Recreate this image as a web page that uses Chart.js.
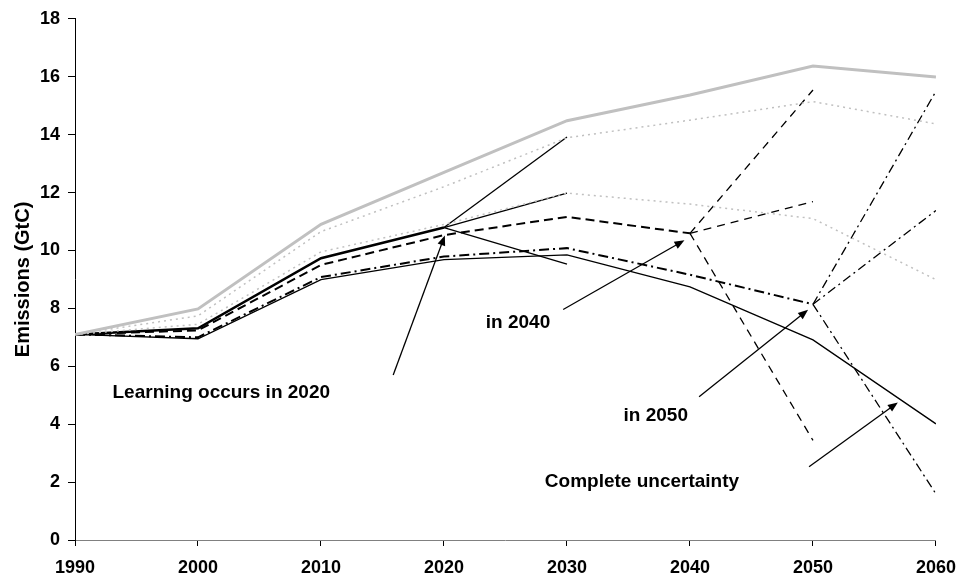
<!DOCTYPE html>
<html>
<head>
<meta charset="utf-8">
<script src="https://cdn.jsdelivr.net/npm/chart.js@4/dist/chart.umd.min.js"></script>
<style>
  html, body { margin: 0; padding: 0; background: #ffffff; }
</style>
</head>
<body>
<canvas id="myPlot1" width="967" height="585"></canvas>
<script>
// values
const years = [1990, 2000, 2010, 2020, 2030, 2040, 2050, 2060]
const refHigh = [7.1, 7.98, 10.9, 12.7, 14.48, 15.37, 16.37, 15.99]
const dotHigh = [7.1, 7.74, 10.65, 12.2, 13.89, 14.5, 15.14, 14.37]
const dotMid = [7.1, 7.45, 9.95, 10.9, 11.98, 11.6, 11.1, 8.99]
const learn2020 = [7.1, 7.31, 9.73, 10.79]
const branch2020 = [13.92, 11.98, 9.53]
const learn2040 = [7.1, 7.24, 9.5, 10.53, 11.16, 10.59]
const branch2040 = [15.54, 11.69, 3.44]
const learn2050 = [7.1, 7.0, 9.08, 9.79, 10.08, 9.16, 8.14]
const branch2050 = [15.5, 11.38, 1.59]
const noLearning = [7.1, 6.95, 8.99, 9.68, 9.85, 8.74, 6.91, 4.01]

// annotations in data units: [x0, y0, x1, y1]
const arrows = [
  [2015.87, 5.70, 2020.07, 10.52],
  [2029.69, 7.96, 2039.55, 10.35],
  [2040.74, 4.95, 2049.6, 7.95],
  [2049.68, 2.53, 2056.9, 4.75]
]
const notes = [
  {text: 'Learning occurs in 2020', x: 1993.05, y: 5.09},
  {text: 'in 2040', x: 2023.4, y: 7.5},
  {text: 'in 2050', x: 2034.6, y: 4.3},
  {text: 'Complete uncertainty', x: 2028.2, y: 2.0}
]

const pts = (xs, ys) => ys.map((v, i) => ({x: xs[i], y: v}))
const fan = (x0, y0, x1, ends) => ends.map(v => [{x: x0, y: y0}, {x: x1, y: v}])

const FONT = '"Liberation Sans", Arial, sans-serif'
const GREY = '#c0c0c0'

const datasets = []
datasets.push({data: pts(years, refHigh), borderColor: GREY, borderWidth: 3})
datasets.push({data: pts(years, dotHigh), borderColor: GREY, borderWidth: 1.5, borderDash: [2, 4]})
datasets.push({data: pts(years, dotMid), borderColor: GREY, borderWidth: 1.5, borderDash: [2, 4]})
datasets.push({data: pts(years, noLearning), borderColor: '#000', borderWidth: 1.3})
fan(2020, learn2020[3], 2030, branch2020).forEach(d =>
  datasets.push({data: d, borderColor: '#000', borderWidth: 1.3}))
fan(2040, learn2040[5], 2050, branch2040).forEach(d =>
  datasets.push({data: d, borderColor: '#000', borderWidth: 1.3, borderDash: [8, 6]}))
fan(2050, learn2050[6], 2060, branch2050).forEach(d =>
  datasets.push({data: d, borderColor: '#000', borderWidth: 1.3, borderDash: [9, 4, 2, 4]}))
datasets.push({data: pts(years, learn2050), borderColor: '#000', borderWidth: 2, borderDash: [10, 4, 2, 4]})
datasets.push({data: pts(years, learn2040), borderColor: '#000', borderWidth: 2, borderDash: [9, 5]})
datasets.push({data: pts(years, learn2020), borderColor: '#000', borderWidth: 2.5})

const annotate = {
  id: 'annotate',
  afterDatasetsDraw(chart) {
    const {ctx, scales: {x, y}} = chart
    ctx.save()
    ctx.strokeStyle = '#000'
    ctx.fillStyle = '#000'
    ctx.lineWidth = 1.3
    arrows.forEach(a => {
      const x0 = x.getPixelForValue(a[0]), y0 = y.getPixelForValue(a[1])
      const x1 = x.getPixelForValue(a[2]), y1 = y.getPixelForValue(a[3])
      const ang = Math.atan2(y1 - y0, x1 - x0)
      const c = Math.cos(ang), s = Math.sin(ang)
      ctx.beginPath()
      ctx.moveTo(x0, y0)
      ctx.lineTo(x1 - 6 * c, y1 - 6 * s)
      ctx.stroke()
      ctx.beginPath()
      ctx.moveTo(x1, y1)
      ctx.lineTo(x1 - 10 * c + 4 * s, y1 - 10 * s - 4 * c)
      ctx.lineTo(x1 - 10 * c - 4 * s, y1 - 10 * s + 4 * c)
      ctx.closePath()
      ctx.fill()
    })
    ctx.font = 'bold 19px ' + FONT
    ctx.textBaseline = 'middle'
    ctx.textAlign = 'left'
    notes.forEach(n => ctx.fillText(n.text, x.getPixelForValue(n.x), y.getPixelForValue(n.y)))
    ctx.restore()
  }
}

new Chart("myPlot1", {
  type: "line",
  data: {datasets: datasets},
  options: {
    responsive: false,
    animation: false,
    devicePixelRatio: 1,
    layout: {padding: {top: 13, right: 26, left: 0, bottom: 0}},
    elements: {point: {radius: 0}, line: {tension: 0, fill: false}},
    scales: {
      x: {
        type: 'linear',
        min: 1990, max: 2060,
        afterFit: s => { s.height = 45 },
        border: {color: '#808080', width: 1},
        grid: {drawOnChartArea: false, tickLength: 6, color: '#000'},
        ticks: {
          stepSize: 10, padding: 11, color: '#000',
          font: {family: FONT, size: 18, weight: 'bold'},
          callback: v => String(v)
        }
      },
      y: {
        min: 0, max: 18,
        afterFit: s => { s.width = 75 },
        border: {color: '#000', width: 1},
        grid: {drawOnChartArea: false, tickLength: 7, color: '#000'},
        ticks: {stepSize: 2, padding: 8, color: '#000', font: {family: FONT, size: 18, weight: 'bold'}},
        title: {
          display: true, text: 'Emissions (GtC)', color: '#000',
          padding: {top: 11, bottom: 0},
          font: {family: FONT, size: 20, weight: 'bold'}
        }
      }
    },
    plugins: {
      legend: {display: false},
      tooltip: {enabled: false}
    }
  },
  plugins: [annotate]
})
</script>
</body>
</html>
